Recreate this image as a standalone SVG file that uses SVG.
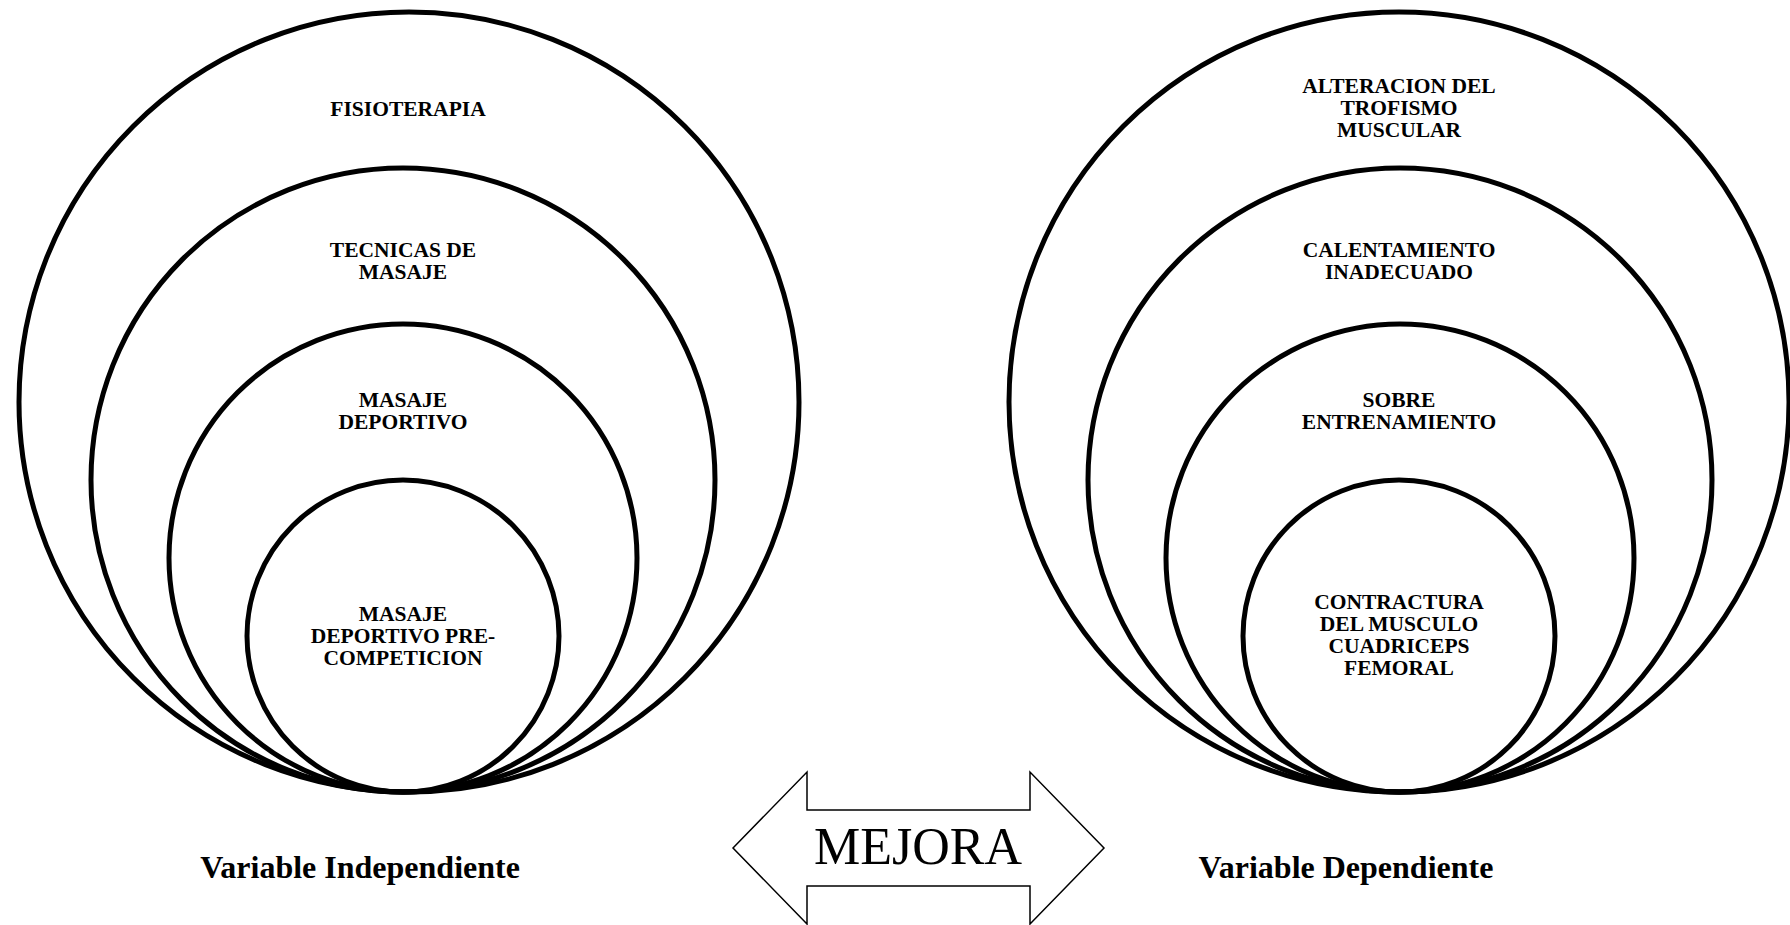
<svg xmlns="http://www.w3.org/2000/svg" width="1790" height="925" viewBox="0 0 1790 925">
<style>
.c{fill:none;stroke:#000;stroke-width:5}
.t{font-family:"Liberation Serif","Times New Roman",serif;font-weight:bold;font-size:21.5px;text-anchor:middle;fill:#000}
.lbl{font-family:"Liberation Serif","Times New Roman",serif;font-weight:bold;font-size:32px;text-anchor:middle;fill:#000}
.arr{fill:#fff;stroke:#000;stroke-width:1.5;stroke-linejoin:miter}
.m{font-family:"Liberation Serif","Times New Roman",serif;font-size:52px;text-anchor:middle;fill:#000}
</style>
<rect width="1790" height="925" fill="#fff"/>
<g id="left">
<g id="fisioterapia"><circle class="c" cx="409" cy="402" r="390"/><text class="t" x="408" y="116">FISIOTERAPIA</text></g>
<g id="tecnicas"><circle class="c" cx="403" cy="480" r="312"/><text class="t" x="403" y="257">TECNICAS DE</text><text class="t" x="403" y="279">MASAJE</text></g>
<g id="masaje"><circle class="c" cx="403" cy="558" r="234"/><text class="t" x="403" y="407">MASAJE</text><text class="t" x="403" y="429">DEPORTIVO</text></g>
<g id="precompeticion"><circle class="c" cx="403" cy="636" r="156"/><text class="t" x="403" y="621">MASAJE</text><text class="t" x="403" y="643">DEPORTIVO PRE-</text><text class="t" x="403" y="665">COMPETICION</text></g>
</g>
<g id="right">
<g id="alteracion"><circle class="c" cx="1399" cy="402" r="390"/><text class="t" x="1399" y="93">ALTERACION DEL</text><text class="t" x="1399" y="115">TROFISMO</text><text class="t" x="1399" y="137">MUSCULAR</text></g>
<g id="calentamiento"><circle class="c" cx="1400" cy="480" r="312"/><text class="t" x="1399" y="257">CALENTAMIENTO</text><text class="t" x="1399" y="279">INADECUADO</text></g>
<g id="sobre"><circle class="c" cx="1400" cy="558" r="234"/><text class="t" x="1399" y="407">SOBRE</text><text class="t" x="1399" y="429">ENTRENAMIENTO</text></g>
<g id="contractura"><circle class="c" cx="1399" cy="636" r="156"/><text class="t" x="1399" y="609">CONTRACTURA</text><text class="t" x="1399" y="631">DEL MUSCULO</text><text class="t" x="1399" y="653">CUADRICEPS</text><text class="t" x="1399" y="675">FEMORAL</text></g>
</g>
<g id="labels">
<text class="lbl" x="360" y="878">Variable Independiente</text>
<text class="lbl" x="1346" y="878">Variable Dependiente</text>
</g>
<g id="connectors">
<g id="mejora">
<polygon class="arr" points="733,848 807,772 807,810 1030,810 1030,772 1104,848 1030,924 1030,886 807,886 807,924"/>
<text class="m" x="918" y="864">MEJORA</text>
</g>
</g>
</svg>
